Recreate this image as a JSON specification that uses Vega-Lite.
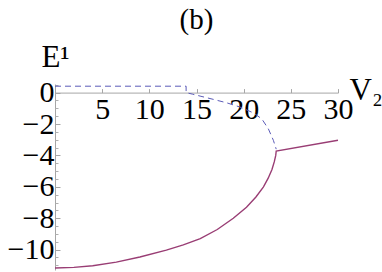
{
  "$schema": "https://vega.github.io/schema/vega-lite/v6.json",
  "width": 283,
  "height": 186,
  "autosize": "none",
  "padding": {"left": 55, "top": 84, "right": 44, "bottom": 2},
  "background": "white",
  "config": {"view": {"stroke": null}, "axis": {"grid": false}},
  "datasets": {
    "dashed": [
      {"i": 0, "v": 0, "e": 0.41},
      {"i": 1, "v": 13.9, "e": 0.41},
      {"i": 2, "v": 13.9, "e": 0.0},
      {"i": 3, "v": 14.6, "e": -0.1},
      {"i": 4, "v": 15.38, "e": -0.22},
      {"i": 5, "v": 16.79, "e": -0.43},
      {"i": 6, "v": 18.21, "e": -0.65},
      {"i": 7, "v": 19.62, "e": -0.92},
      {"i": 8, "v": 21.03, "e": -1.29},
      {"i": 9, "v": 21.92, "e": -1.67},
      {"i": 10, "v": 22.62, "e": -2.31},
      {"i": 11, "v": 23.15, "e": -3.04},
      {"i": 12, "v": 23.45, "e": -3.6}
    ],
    "solid": [
      {"i": 0, "v": 0, "e": -11.17},
      {"i": 1, "v": 2, "e": -11.13},
      {"i": 2, "v": 4, "e": -11.03},
      {"i": 3, "v": 6.5, "e": -10.8},
      {"i": 4, "v": 9, "e": -10.47},
      {"i": 5, "v": 11.8, "e": -10.03},
      {"i": 6, "v": 13.6, "e": -9.7},
      {"i": 7, "v": 15.4, "e": -9.3},
      {"i": 8, "v": 17.2, "e": -8.72},
      {"i": 9, "v": 18.9, "e": -8.0},
      {"i": 10, "v": 20.3, "e": -7.3},
      {"i": 11, "v": 21.3, "e": -6.65},
      {"i": 12, "v": 22.1, "e": -6.0},
      {"i": 13, "v": 22.6, "e": -5.45},
      {"i": 14, "v": 23.0, "e": -4.9},
      {"i": 15, "v": 23.25, "e": -4.4},
      {"i": 16, "v": 23.4, "e": -4.0},
      {"i": 17, "v": 23.45, "e": -3.72},
      {"i": 18, "v": 30, "e": -3.03}
    ]
  },
  "layer": [
    {
      "data": {"name": "dashed"},
      "mark": {"type": "line", "stroke": "#5b5bb8", "strokeWidth": 1, "strokeDash": [6, 4]},
      "encoding": {
        "x": {"field": "v", "type": "quantitative", "scale": {"domain": [0, 30], "nice": false, "zero": false},
          "axis": {"orient": "bottom", "offset": -177.4, "values": [5, 10, 15, 20, 25, 30], "tickSize": -4, "domainColor": "#a6a6a6", "tickColor": "#a6a6a6", "labelFont": "Liberation Serif", "labelFontSize": 30, "labelColor": "black", "labelPadding": 6, "labelBaseline": "top", "labelOverlap": false, "labelFlush": false,
            "title": "V₂", "titleFont": "Liberation Serif", "titleFontSize": 31, "titleFontWeight": "normal", "titleColor": "black", "titleAngle": 0, "titleAlign": "left", "titleBaseline": "alphabetic", "titleX": 294, "titleY": 7}},
        "y": {"field": "e", "type": "quantitative", "scale": {"domain": [-11.3, 0.55], "nice": false, "zero": false},
          "axis": {"orient": "left", "values": [-10, -8, -6, -4, -2, 0], "tickSize": -5, "domainColor": "#a6a6a6", "tickColor": "#a6a6a6", "labelFont": "Liberation Serif", "labelFontSize": 30, "labelColor": "black", "labelPadding": 6, "labelOverlap": false, "labelFlush": false,
            "title": "E¹", "titleFont": "Liberation Serif", "titleFontSize": 31, "titleFontWeight": "normal", "titleColor": "black", "titleAngle": 0, "titleAlign": "center", "titleBaseline": "alphabetic", "titleX": 0, "titleY": -18}},
        "order": {"field": "i"}
      }
    },
    {
      "data": {"name": "solid"},
      "mark": {"type": "line", "stroke": "#993d74", "strokeWidth": 1.4},
      "encoding": {
        "x": {"field": "v", "type": "quantitative", "axis": null},
        "y": {"field": "e", "type": "quantitative",
          "axis": {"orient": "left", "values": [-11, -10.5, -9.5, -9, -8.5, -7.5, -7, -6.5, -5.5, -5, -4.5, -3.5, -3, -2.5, -1.5, -1, -0.5, 0.5], "tickSize": -3, "domain": false, "labels": false, "tickColor": "#b0b0b0",
            "title": "(b)", "titleFont": "Liberation Serif", "titleFontSize": 29, "titleFontWeight": "normal", "titleColor": "black", "titleAngle": 0, "titleAlign": "center", "titleBaseline": "alphabetic", "titleX": 141, "titleY": -56}},
        "order": {"field": "i"}
      }
    }
  ],
  "resolve": {"axis": {"x": "independent", "y": "independent"}}
}
